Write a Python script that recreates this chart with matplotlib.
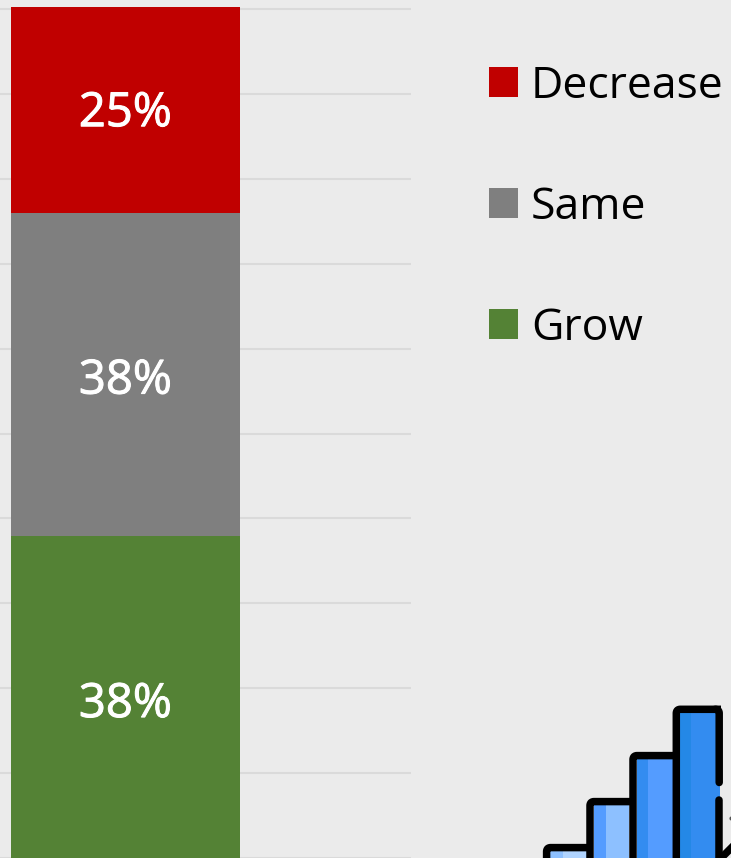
import matplotlib
matplotlib.use('Agg')
import matplotlib.pyplot as plt
import matplotlib.patheffects as pe
from matplotlib.patches import Patch, PathPatch, Rectangle
from matplotlib.path import Path

# series, bottom to top. heights (the labels are rounded and sum to 101)
names = ['Grow', 'Same', 'Decrease']
values = [37.9, 38.1, 24.3]
labels = ['38%', '38%', '25%']
label_y = [18.1, 56.2, 87.7]
colors = ['#548235', '#7f7f7f', '#c00000']
yticks = [0, 10, 20, 30, 40, 50, 60, 70, 80, 90, 100]

# little bar chart icon, pixels: left, right, top, strip edge, strip colour, fill colour
icon_bars = [
    (550.3, 586.7, 851.3, 563, '#8dc0ff', '#b0d4ff'),
    (593.7, 629.3, 805.3, 606, '#549cff', '#8dc0ff'),
    (636.7, 672.7, 759.3, 648.3, '#338cf0', '#549cff'),
    (680, 720, 713, 691, '#2488e6', '#338cf0'),
]

plt.rcParams['font.family'] = ['Open Sans', 'DejaVu Sans']
bg = '#ebebeb'
fig = plt.figure(figsize=(7.31, 8.58), dpi=100, facecolor=bg)

ax = fig.add_axes([0, 0, 411 / 731, 851 / 858], facecolor=bg)
ax.set_xlim(-125.5 / 229, (411 - 125.5) / 229)
ax.set_ylim(0, 851 / 8.49)
ax.yaxis.grid(True, color='#dadada', linewidth=1.5)
ax.set_axisbelow(True)
ax.set_yticks(yticks)
ax.set_xticks([])
ax.tick_params(left=False, labelleft=False)
for s in ax.spines.values():
    s.set_visible(False)

bottom = 0
handles = []
for name, v, lab, ly, c in zip(names, values, labels, label_y, colors):
    ax.bar(0, v, width=1, bottom=bottom, color=c)
    ax.text(0, ly, lab, color='white', fontsize=34, ha='center', va='center',
            path_effects=[pe.withStroke(linewidth=0.7, foreground='white')])
    bottom += v
    handles.append(Patch(facecolor=c, label=name))

fs = 32
px = fs * 100 / 72
leg = fig.legend(handles[::-1], names[::-1], loc='upper left',
                 bbox_to_anchor=(489 / 731, 1 - 64 / 858), frameon=False, fontsize=fs,
                 borderpad=0, borderaxespad=0, handlelength=29 / px, handleheight=29 / px,
                 handletextpad=13 / px, labelspacing=1.722)

# icon in pixel coordinates, cut off by the figure edge
over = fig.add_axes([0, 0, 1, 1])
over.set_xlim(0, 731)
over.set_ylim(858, 0)
over.axis('off')
lw = 5.4
rad = 4
for l, r, t, e, c1, c2 in icon_bars:
    over.add_patch(Rectangle((l, t), r - l, 858 - t, color=c2, lw=0))
    over.add_patch(Rectangle((l, t), e - l, 858 - t, color=c1, lw=0))
    # left side and top of the outline with a rounded corner
    x0 = l - 3.7
    y0 = t - 3.7
    path = Path([(x0, 862), (x0, y0 + rad), (x0, y0), (x0 + rad, y0), (r + 1, y0)],
                [Path.MOVETO, Path.LINETO, Path.CURVE3, Path.CURVE3, Path.LINETO])
    over.add_patch(PathPatch(path, fill=False, ec='black', lw=lw, capstyle='butt', joinstyle='round'))

# right side of the tallest bar, broken in two, and the corner at the edge
x1 = 719.2
y1 = 709.3
path = Path([(x1 - rad, y1), (x1, y1), (x1, y1 + rad), (x1, 782.5)],
            [Path.MOVETO, Path.CURVE3, Path.CURVE3, Path.LINETO])
over.add_patch(PathPatch(path, fill=False, ec='black', lw=lw, capstyle='round', joinstyle='round'))
over.plot([x1, x1], [799.5, 862], color='black', lw=lw, solid_capstyle='round')
over.plot([x1, x1 + 13], [860, 847], color='black', lw=lw)
over.plot([730.5], [817.7], 'o', color='#555555', ms=3, mew=0)

fig.savefig('out.png', dpi=100, facecolor=bg)
